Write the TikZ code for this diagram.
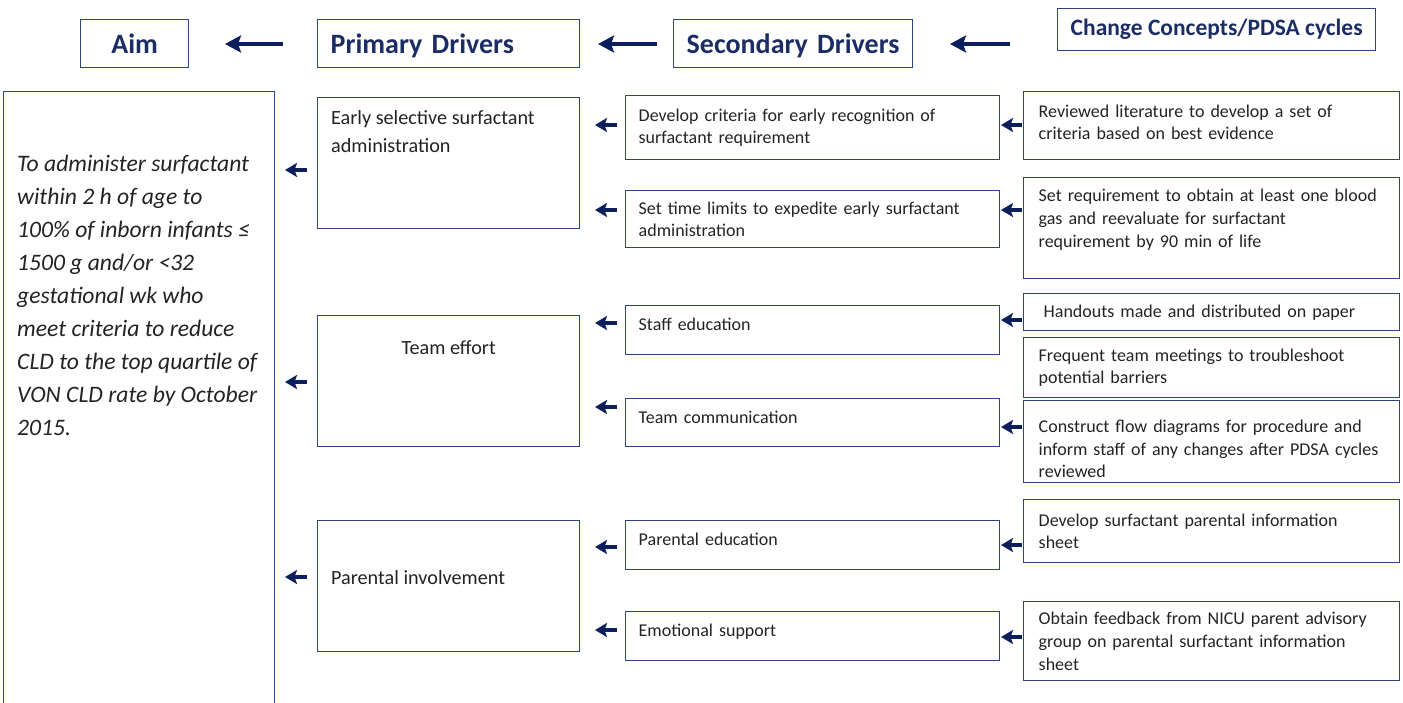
\documentclass[tikz,border=0pt]{standalone}
\usepackage{fontspec}
\setmainfont{Carlito}
\usepackage{tikz}
\usetikzlibrary{arrows.meta, positioning}

\definecolor{navy}{RGB}{13,30,92}
\definecolor{boxline}{RGB}{45,68,135}
\definecolor{headtext}{RGB}{27,45,100}
\definecolor{bodytext}{RGB}{35,35,35}

\hyphenpenalty=10000
\exhyphenpenalty=10000

\newcommand{\headfont}{\fontsize{28}{32}\selectfont\bfseries}
\newcommand{\aimfont}{\fontsize{23.6}{33}\selectfont\itshape}
\newcommand{\primfont}{\fontsize{20.2}{28}\selectfont}
\newcommand{\bodyfont}{\fontsize{18}{22.7}\selectfont}

\tikzstyle{header} = [rectangle, draw=boxline, line width=1.4pt, anchor=north west, inner xsep=13pt, inner ysep=0pt, minimum height=48pt, text=headtext, font=\headfont, align=left]
\tikzstyle{aimbox} = [rectangle, draw=boxline, line width=1.4pt, anchor=north west, minimum width=271pt, minimum height=620pt]
\tikzstyle{primary} = [rectangle, draw=boxline, line width=1.4pt, anchor=north west, minimum width=262pt, minimum height=131pt]
\tikzstyle{secondary} = [rectangle, draw=boxline, line width=1.4pt, anchor=north west, text width=348pt, inner xsep=13pt, inner ysep=3pt, align=left, text=bodytext, font=\bodyfont]
\tikzstyle{oneline} = [text depth=11pt]
\tikzstyle{concept} = [rectangle, draw=boxline, line width=1.4pt, anchor=north west, text width=346pt, inner xsep=15pt, inner ysep=3pt, align=left, text=bodytext, font=\bodyfont]
\tikzstyle{boxtext} = [inner sep=0pt, align=left, text=bodytext]
\tikzstyle{bigarrow} = [navy, line width=4.5pt, -{Stealth[length=16pt, width=17pt, inset=3pt]}]
\tikzstyle{smallarrow} = [navy, line width=4pt, -{Stealth[length=12pt, width=14pt, inset=2.5pt]}]

\begin{document}
\begin{tikzpicture}[x=1pt, y=-1pt]
\path[use as bounding box, clip] (0,0) rectangle (1403,702);

% column headings
\node (ahead) [header, minimum width=108pt, align=center] at (80,19) {Aim};
\node (phead) [header, text width=236pt, text depth=1pt] at (317,19) {Primary Drivers};
\node (shead) [header, text width=213pt, text depth=1pt] at (673,19) {Secondary Drivers};
\node (chead) [header, minimum width=316pt, minimum height=42pt, align=center, font=\fontsize{23.5}{28}\selectfont\bfseries] at (1057,8) {Change Concepts/PDSA cycles};

% aim
\node (aim) [aimbox, label={[boxtext, font=\aimfont, anchor=north west, xshift=14pt, yshift=-64pt]north west:{To administer surfactant\\within 2 h of age to\\100\% of inborn infants ≤\\1500 g and/or <32\\gestational wk who\\meet criteria to reduce\\CLD to the top quartile of\\VON CLD rate by October\\2015.}}] at (3,91) {};

% primary drivers
\node (p1) [primary, label={[boxtext, font=\primfont, anchor=north west, xshift=14pt, yshift=-13pt]north west:{Early selective surfactant\\administration}}] at (317,97) {};
\node (p2) [primary, label={[boxtext, font=\primfont, anchor=north, yshift=-25pt]north:Team effort}] at (317,315) {};
\node (p3) [primary, label={[boxtext, font=\primfont, anchor=west, xshift=14pt, yshift=9pt]west:Parental involvement}] at (317,520) {};

% secondary drivers
\node (s1) [secondary, minimum height=64pt] at (625,95) {Develop criteria for early recognition of\\surfactant requirement};
\node (s2) [secondary, minimum height=57pt] at (625,190) {Set time limits to expedite early surfactant\\administration};
\node (s3) [secondary, oneline, minimum height=49pt] at (625,305) {Staff education};
\node (s4) [secondary, oneline, minimum height=48pt] at (625,398) {Team communication};
\node (s5) [secondary, oneline, minimum height=49pt] at (625,520) {Parental education};
\node (s6) [secondary, oneline, minimum height=49pt] at (625,611) {Emotional support};

% change concepts
\node (c1) [concept, minimum height=68pt] at (1023,91) {Reviewed literature to develop a set of\\criteria based on best evidence\\[-15.7pt]\mbox{}};
\node (c2) [concept, minimum height=101pt] at (1023,177) {Set requirement to obtain at least one blood\\gas and reevaluate for surfactant\\requirement by 90 min of life\\[-3pt]\mbox{}};
\node (c3) [concept, minimum height=37pt] at (1023,293) {\hspace*{5pt}Handouts made and distributed on paper};
\node (c4) [concept, minimum height=60pt] at (1023,337) {Frequent team meetings to troubleshoot\\potential barriers};
\node (c5) [concept, minimum height=82pt] at (1023,400) {\mbox{}\\[4.5pt]Construct flow diagrams for procedure and\\inform staff of any changes after PDSA cycles\\reviewed};
\node (c6) [concept, minimum height=63pt] at (1023,499) {Develop surfactant parental information\\sheet};
\node (c7) [concept, minimum height=79pt] at (1023,601) {Obtain feedback from NICU parent advisory\\group on parental surfactant information\\sheet};

% heading arrows
\draw [bigarrow] (phead.west |- 0,44) ++(-34,0) -- ++(-58,0);
\draw [bigarrow] (shead.west |- 0,44) ++(-16,0) -- ++(-59,0);
\draw [bigarrow] (chead.west |- 0,44) ++(-47,0) -- ++(-60,0);

% primary -> aim
\draw [smallarrow] (p1.west |- 0,170) ++(-10,0) -- ++(-22,0);
\draw [smallarrow] (p2.west |- 0,382) ++(-10,0) -- ++(-22,0);
\draw [smallarrow] (p3.west |- 0,577) ++(-10,0) -- ++(-22,0);

% secondary -> primary
\draw [smallarrow] (s1.west |- 0,125) ++(-8,0) -- ++(-22,0);
\draw [smallarrow] (s2.west |- 0,210) ++(-8,0) -- ++(-22,0);
\draw [smallarrow] (s3.west |- 0,323) ++(-8,0) -- ++(-22,0);
\draw [smallarrow] (s4.west |- 0,407) ++(-8,0) -- ++(-22,0);
\draw [smallarrow] (s5.west |- 0,547) ++(-8,0) -- ++(-22,0);
\draw [smallarrow] (s6.west |- 0,630) ++(-8,0) -- ++(-22,0);

% change concepts -> secondary
\draw [smallarrow] (c1.west |- 0,125) ++(-1,0) -- ++(-21,0);
\draw [smallarrow] (c2.west |- 0,210) ++(-1,0) -- ++(-21,0);
\draw [smallarrow] (c3.west |- 0,320) ++(-1,0) -- ++(-21,0);
\draw [smallarrow] (c5.west |- 0,427) ++(-1,0) -- ++(-21,0);
\draw [smallarrow] (c6.west |- 0,545) ++(-1,0) -- ++(-21,0);
\draw [smallarrow] (c7.west |- 0,637) ++(-1,0) -- ++(-21,0);
\end{tikzpicture}
\end{document}
